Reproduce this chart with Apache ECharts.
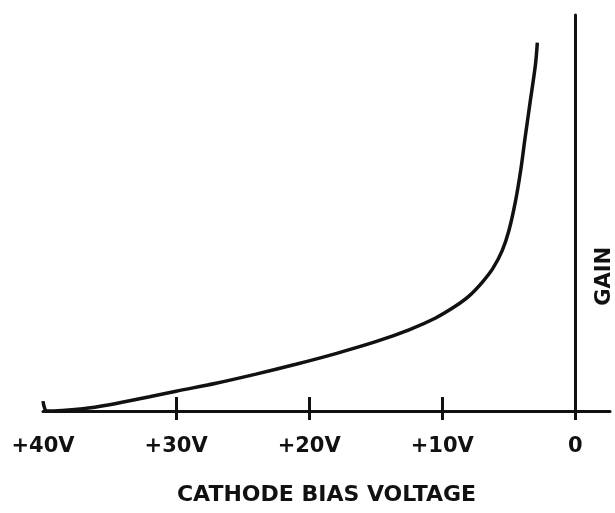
<!DOCTYPE html>
<html>
<head>
<meta charset="utf-8">
<script src="https://cdn.jsdelivr.net/npm/echarts@6/dist/echarts.min.js"></script>
<style>
  html, body { margin: 0; padding: 0; background: #fff; }
  #chart { width: 615px; height: 513px; }
</style>
</head>
<body>
<div id="chart"></div>
<script>
// Gain versus cathode bias voltage (gain in relative units, 0 = baseline)
const biasVoltage = [40.0, 39.7, 37.0, 35.0, 32.0, 30.0, 27.0, 24.0, 21.0, 18.0, 15.0, 12.5, 10.5, 9.0, 8.0, 7.0, 6.2, 5.5, 5.0, 4.5, 4.1, 3.8, 3.4, 3.0, 2.86];
const gain        = [2.5, 0.0, 0.6, 1.6, 3.6, 5.0, 7.0, 9.3, 11.8, 14.5, 17.5, 20.5, 23.5, 26.5, 29.0, 32.5, 36.0, 40.5, 45.5, 53.0, 61.0, 68.5, 78.0, 87.5, 93.0];

const tickValues = [40, 30, 20, 10, 0];
const tickLabels = ['+40V', '+30V', '+20V', '+10V', '0'];
const markedTicks = [30, 20, 10, 0];

const xTitle = 'CATHODE BIAS VOLTAGE';
const yTitle = 'GAIN';

const ink = '#111';
const font = 'DejaVu Sans';

const chart = echarts.init(document.getElementById('chart'), null, { renderer: 'canvas' });

const xRange = { min: -2.6, max: 40, inverse: true };

chart.setOption({
  backgroundColor: '#fff',
  animation: false,
  grid: { left: 43, right: 5, top: 15, bottom: 102, containLabel: false },
  xAxis: [
    {
      type: 'value',
      ...xRange,
      name: xTitle,
      nameLocation: 'middle',
      nameGap: 73,
      nameTextStyle: { color: ink, fontFamily: font, fontWeight: 'bold', fontSize: 22 },
      splitLine: { show: false },
      axisLine: { show: true, onZero: false, lineStyle: { color: ink, width: 3 } },
      axisTick: { show: true, inside: false, length: 9, customValues: markedTicks, lineStyle: { color: ink, width: 3 } },
      axisLabel: {
        show: true,
        customValues: tickValues,
        margin: 25,
        color: ink,
        fontFamily: font,
        fontWeight: 'bold',
        fontSize: 21,
        formatter: v => tickLabels[tickValues.indexOf(v)]
      }
    },
    {
      // upper half of the crossing tick marks
      type: 'value',
      ...xRange,
      position: 'bottom',
      splitLine: { show: false },
      axisLine: { show: false, onZero: false },
      axisTick: { show: true, inside: true, length: 14, customValues: markedTicks.slice(0, 3), lineStyle: { color: ink, width: 3 } },
      axisLabel: { show: false }
    }
  ],
  yAxis: {
    type: 'value',
    min: 0,
    max: 100,
    splitLine: { show: false },
    axisLine: { show: true, onZero: true, lineStyle: { color: ink, width: 3 } },
    axisTick: { show: false },
    axisLabel: { show: false }
  },
  series: [
    {
      type: 'line',
      data: biasVoltage.map((v, i) => [v, gain[i]]),
      smooth: 0.3,
      symbol: 'none',
      clip: false,
      lineStyle: { color: ink, width: 3.5 }
    }
  ]
});

// Gain label sits just right of the vertical axis line (x = 0 V)
function placeGainLabel() {
  const [px] = chart.convertToPixel({ xAxisIndex: 0, yAxisIndex: 0 }, [0, 0]);
  const [, py] = chart.convertToPixel({ xAxisIndex: 0, yAxisIndex: 0 }, [0, 34]);
  chart.setOption({
    graphic: [{
      type: 'text',
      x: px + 29,
      y: py,
      rotation: Math.PI / 2,
      style: {
        text: yTitle,
        fill: ink,
        font: 'bold 21px "' + font + '"',
        align: 'center',
        verticalAlign: 'middle'
      }
    }]
  });
}
placeGainLabel();
</script>
</body>
</html>
